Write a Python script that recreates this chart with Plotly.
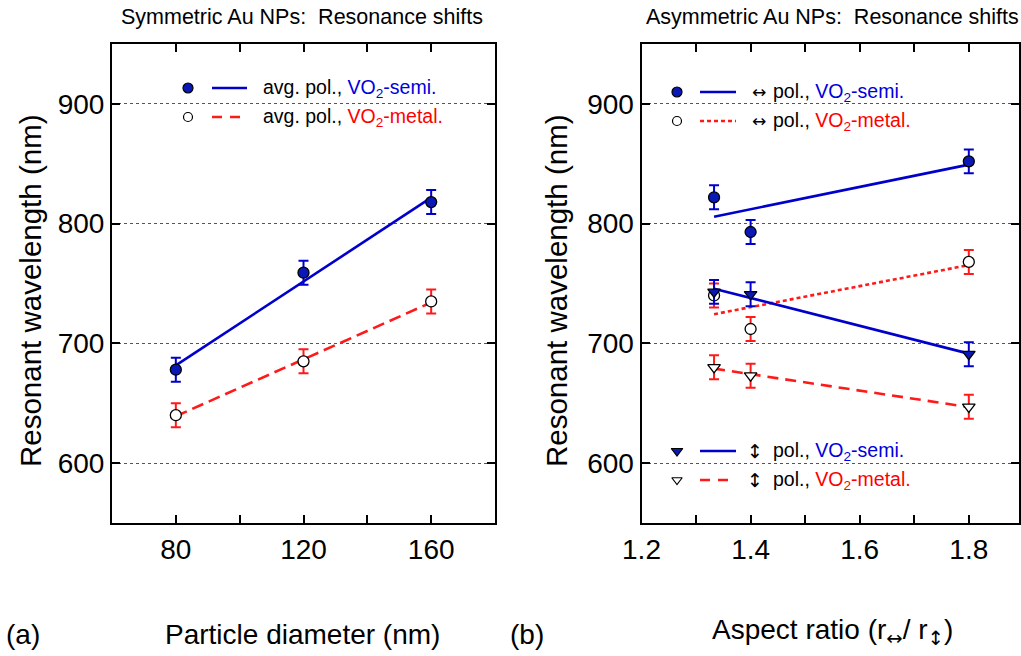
import numpy as np
import plotly.graph_objects as go

# ---------------- data ----------------
diam = [80, 120, 160]
sym_semi = [678, 759, 818]
sym_metal = [640, 685, 735]
sym_err = [10, 10, 10]

ratio = [1.333, 1.4, 1.8]
h_semi = [822, 793, 852]
h_metal = [740, 712, 768]
v_semi = [743, 741, 691]
v_metal = [680, 673, 647]
asym_err = [10, 10, 10]

W, H = 1021, 656
BLUE = "#0000cc"
FILL = "#0a18b8"
RED = "#ff1a1a"
TBLUE = "#0000dd"
TRED = "#ff0000"
FONT = "Liberation Sans"
AFONT = "DejaVu Sans"


def px(x):
    return x / W


def py(y):
    return 1 - y / H


def fit(x, y):
    c = np.polyfit(x, y, 1)
    xx = np.array([min(x), max(x)])
    return xx, np.polyval(c, xx)


fig = go.Figure()


def add_series(x, y, err, xa, ya, symbol, filled, ecol, lcol, dash):
    fx, fy = fit(x, y)
    fig.add_trace(go.Scatter(x=fx, y=fy, mode="lines", xaxis=xa, yaxis=ya,
                             line=dict(color=lcol, width=2.6, dash=dash),
                             showlegend=False, hoverinfo="skip"))
    fig.add_trace(go.Scatter(x=x, y=y, mode="markers", xaxis=xa, yaxis=ya,
                             error_y=dict(type="data", array=err, color=ecol,
                                          thickness=2, width=5),
                             marker=dict(symbol=symbol, size=11,
                                         color=FILL if filled else "white",
                                         line=dict(color="black", width=1.3)),
                             showlegend=False))


add_series(diam, sym_metal, sym_err, "x", "y", "circle", False, RED, RED, "12px,6px")
add_series(diam, sym_semi, sym_err, "x", "y", "circle", True, BLUE, BLUE, "solid")

add_series(ratio, v_metal, asym_err, "x2", "y2", "triangle-down", False, RED, RED, "11px,7px")
add_series(ratio, h_metal, asym_err, "x2", "y2", "circle", False, RED, RED, "4px,3px")
add_series(ratio, v_semi, asym_err, "x2", "y2", "triangle-down", True, BLUE, BLUE, "solid")
add_series(ratio, h_semi, asym_err, "x2", "y2", "circle", True, BLUE, BLUE, "solid")

# ---------------- legend glyphs (pixel overlay axes) ----------------
legend_rows = [
    # (marker_x, row_y, line_x0, line_x1, symbol, filled, color, dash)
    (188, 88, 212, 247, "circle", True, BLUE, "solid"),
    (188, 117, 212, 247, "circle", False, RED, "10px,8px"),
    (677, 92, 700, 736, "circle", True, BLUE, "solid"),
    (677, 121, 700, 736, "circle", False, RED, "4px,3px"),
    (677, 451, 700, 736, "triangle-down", True, BLUE, "solid"),
    (677, 480, 700, 736, "triangle-down", False, RED, "10px,8px"),
]
for mx, ry, lx0, lx1, sym, filled, col, dash in legend_rows:
    fig.add_trace(go.Scatter(x=[lx0, lx1], y=[ry, ry], mode="lines", xaxis="x3", yaxis="y3",
                             line=dict(color=col, width=2.6, dash=dash),
                             showlegend=False, hoverinfo="skip"))
    fig.add_trace(go.Scatter(x=[mx], y=[ry], mode="markers", xaxis="x3", yaxis="y3",
                             marker=dict(symbol=sym, size=10 if filled else 9,
                                         color=FILL if filled else "white",
                                         line=dict(color="black", width=1.2)),
                             showlegend=False, hoverinfo="skip"))

semi = f"<span style='color:{TBLUE}'>VO<sub>2</sub>-semi.</span>"
metal = f"<span style='color:{TRED}'>VO<sub>2</sub>-metal.</span>"

annotations = []


def txt(x, y, s, size, xanchor="left", angle=0, family=FONT):
    annotations.append(dict(x=px(x), y=py(y), xref="paper", yref="paper", text=s,
                            showarrow=False, xanchor=xanchor, yanchor="middle",
                            textangle=angle, font=dict(family=family, size=size, color="black")))


LS = 19.5
txt(261, 88, "avg. pol., " + semi, LS)
txt(261, 117, "avg. pol., " + metal, LS)
txt(759, 92, "↔", 17, "center", family=AFONT)
txt(759, 121, "↔", 17, "center", family=AFONT)
txt(755, 451, "↕", 19, "center", family=AFONT)
txt(755, 480, "↕", 19, "center", family=AFONT)
for yy, s in [(92, semi), (121, metal), (451, semi), (480, metal)]:
    txt(771, yy, "pol., " + s, LS)

# titles and axis labels
txt(302, 17, "Symmetric Au NPs:  Resonance shifts", 21.5, "center")
txt(832, 17, "Asymmetric Au NPs:  Resonance shifts", 21.5, "center")
txt(30, 291, "Resonant wavelength (nm)", 29.5, "center", -90)
txt(556, 291, "Resonant wavelength (nm)", 29.5, "center", -90)
txt(302, 634, "Particle diameter (nm)", 28, "center")
arrow_h = f"<span style='font-family:{AFONT}'>↔</span>"
arrow_v = f"<span style='font-family:{AFONT}'>↕</span>"
txt(832, 632, f"Aspect ratio (r<sub>{arrow_h}</sub>/ r<sub>{arrow_v}</sub>)", 28, "center")
txt(23, 634, "(a)", 28, "center")
txt(527, 634, "(b)", 28, "center")

axis_common = dict(showline=True, linecolor="black", linewidth=2, mirror="allticks",
                   ticks="inside", ticklen=8, tickwidth=1.5, tickcolor="black",
                   tickfont=dict(family=FONT, size=28, color="black"), zeroline=False,
                   automargin=False)

yaxis_common = dict(axis_common, range=[550, 950], tick0=600, dtick=100, showgrid=True,
                    gridcolor="#555555", gridwidth=1, griddash="dot")

fig.update_layout(
    width=W, height=H,
    margin=dict(l=0, r=0, t=0, b=0, pad=0),
    paper_bgcolor="white", plot_bgcolor="rgba(0,0,0,0)",
    showlegend=False,
    xaxis=dict(axis_common, domain=[px(112), px(495)], range=[60, 180], tick0=80, dtick=40,
               showgrid=False, minor=dict(ticks="inside", ticklen=8, dtick=20, tickcolor="black",
                                          tickwidth=1.5, showgrid=False),
               anchor="y"),
    yaxis=dict(yaxis_common, domain=[py(523), py(44)], anchor="x"),
    xaxis2=dict(axis_common, domain=[px(641.5), px(1019)], range=[1.2, 1.892], tick0=1.2,
                dtick=0.2, tickformat=".1f", showgrid=False,
                minor=dict(ticks="inside", ticklen=8, dtick=0.1, tickcolor="black",
                           tickwidth=1.5, showgrid=False),
                anchor="y2"),
    yaxis2=dict(yaxis_common, domain=[py(523), py(44)], anchor="x2"),
    xaxis3=dict(domain=[0, 1], range=[0, W], visible=False, anchor="y3",
                fixedrange=True, automargin=False),
    yaxis3=dict(domain=[0, 1], range=[H, 0], visible=False, anchor="x3",
                fixedrange=True, automargin=False),
    annotations=annotations,
)

fig.write_html(
    "out.html",
    config={"displayModeBar": False},
    post_script="document.body.style.margin='0px';document.body.style.overflow='hidden';",
)
